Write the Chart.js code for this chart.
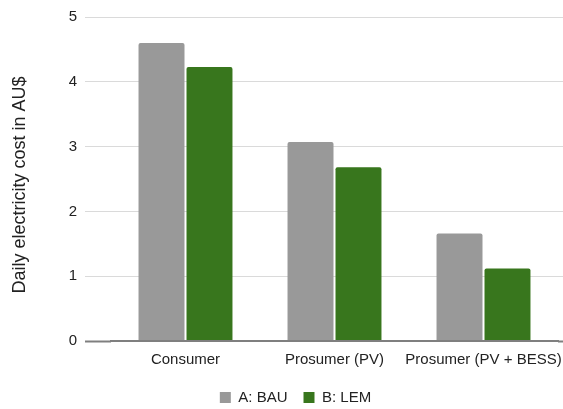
<!DOCTYPE html>
<html>
<head>
<meta charset="utf-8">
<script src="https://cdn.jsdelivr.net/npm/chart.js@4/dist/chart.umd.min.js"></script>
<style>
  html, body { margin: 0; padding: 0; background: #ffffff; }
  canvas { display: block; }
</style>
</head>
<body>
<canvas id="chart" width="563" height="409"></canvas>
<script>
// Daily electricity cost per household type, business-as-usual vs. local energy market
const categories = ['Consumer', 'Prosumer (PV)', 'Prosumer (PV + BESS)'];
const seriesNames = ['A: BAU', 'B: LEM'];
const bauCost = [4.6, 3.07, 1.66];
const lemCost = [4.23, 2.68, 1.12];
const yTicks = [0, 1, 2, 3, 4, 5];
const yTitle = 'Daily electricity cost in AU$';

const FONT = '"Liberation Sans", Arial, sans-serif';
const GRID = '#dadada';
const BASE = '#7f7f7f';
Chart.defaults.font.family = FONT;
Chart.defaults.color = '#222222';

// Gridline tick marks continue the horizontal lines beyond the plot edges
const tickColor = ctx => (ctx.tick && ctx.tick.value === 0 ? BASE : GRID);
const tickWidth = ctx => (ctx.tick && ctx.tick.value === 0 ? 2 : 1);

// Rotated axis title, centred on the bars' vertical span
const sideTitle = {
  id: 'sideTitle',
  afterDraw(chart) {
    const c = chart.ctx;
    c.save();
    c.translate(20, 185);
    c.rotate(-Math.PI / 2);
    c.font = '18px ' + FONT;
    c.fillStyle = '#222222';
    c.textAlign = 'center';
    c.textBaseline = 'middle';
    c.fillText(yTitle, 0, 0);
    c.restore();
  }
};

new Chart(document.getElementById('chart'), {
  type: 'bar',
  data: {
    labels: categories,
    datasets: [
      {
        label: seriesNames[0],
        data: bauCost,
        backgroundColor: '#999999',
        borderWidth: 0,
        borderRadius: { topLeft: 2, topRight: 2 },
        borderSkipped: 'start',
        categoryPercentage: 0.644,
        barPercentage: 0.958
      },
      {
        label: seriesNames[1],
        data: lemCost,
        backgroundColor: '#38761d',
        borderWidth: 0,
        borderRadius: { topLeft: 2, topRight: 2 },
        borderSkipped: 'start',
        categoryPercentage: 0.644,
        barPercentage: 0.958
      }
    ]
  },
  options: {
    responsive: false,
    animation: false,
    layout: { padding: { top: 16, left: 28, right: 0, bottom: -6 } },
    plugins: {
      tooltip: { enabled: false },
      legend: {
        position: 'bottom',
        align: 'center',
        labels: {
          boxWidth: 11,
          boxHeight: 11,
          padding: 16,
          font: { size: 15 },
          color: '#222222'
        }
      }
    },
    scales: {
      x: {
        grid: { display: false, drawTicks: false },
        border: { display: true, color: BASE, width: 2, z: 1 },
        ticks: { font: { size: 15 }, color: '#222222', padding: 10, maxRotation: 0, autoSkip: false },
        afterFit(s) {
          s.height = 33;
          s.paddingLeft = 0;
          s.paddingRight = 0;
        }
      },
      y: {
        min: 0,
        max: 5,
        afterBuildTicks(s) { s.ticks = yTicks.map(v => ({ value: v })); },
        grid: {
          color: GRID,
          lineWidth: 1,
          drawTicks: true,
          tickLength: 26,
          tickColor: tickColor,
          tickWidth: tickWidth
        },
        border: { display: false },
        ticks: { font: { size: 15 }, color: '#222222', padding: 8 },
        afterFit(s) { s.width = 83; }
      },
      yEdge: {
        position: 'right',
        min: 0,
        max: 5,
        afterBuildTicks(s) { s.ticks = yTicks.map(v => ({ value: v })); },
        grid: {
          drawOnChartArea: false,
          drawTicks: true,
          tickLength: 5,
          color: GRID,
          tickColor: tickColor,
          tickWidth: tickWidth
        },
        border: { display: false },
        ticks: { display: false },
        afterFit(s) { s.width = 5; }
      }
    }
  },
  plugins: [sideTitle]
});
</script>
</body>
</html>
